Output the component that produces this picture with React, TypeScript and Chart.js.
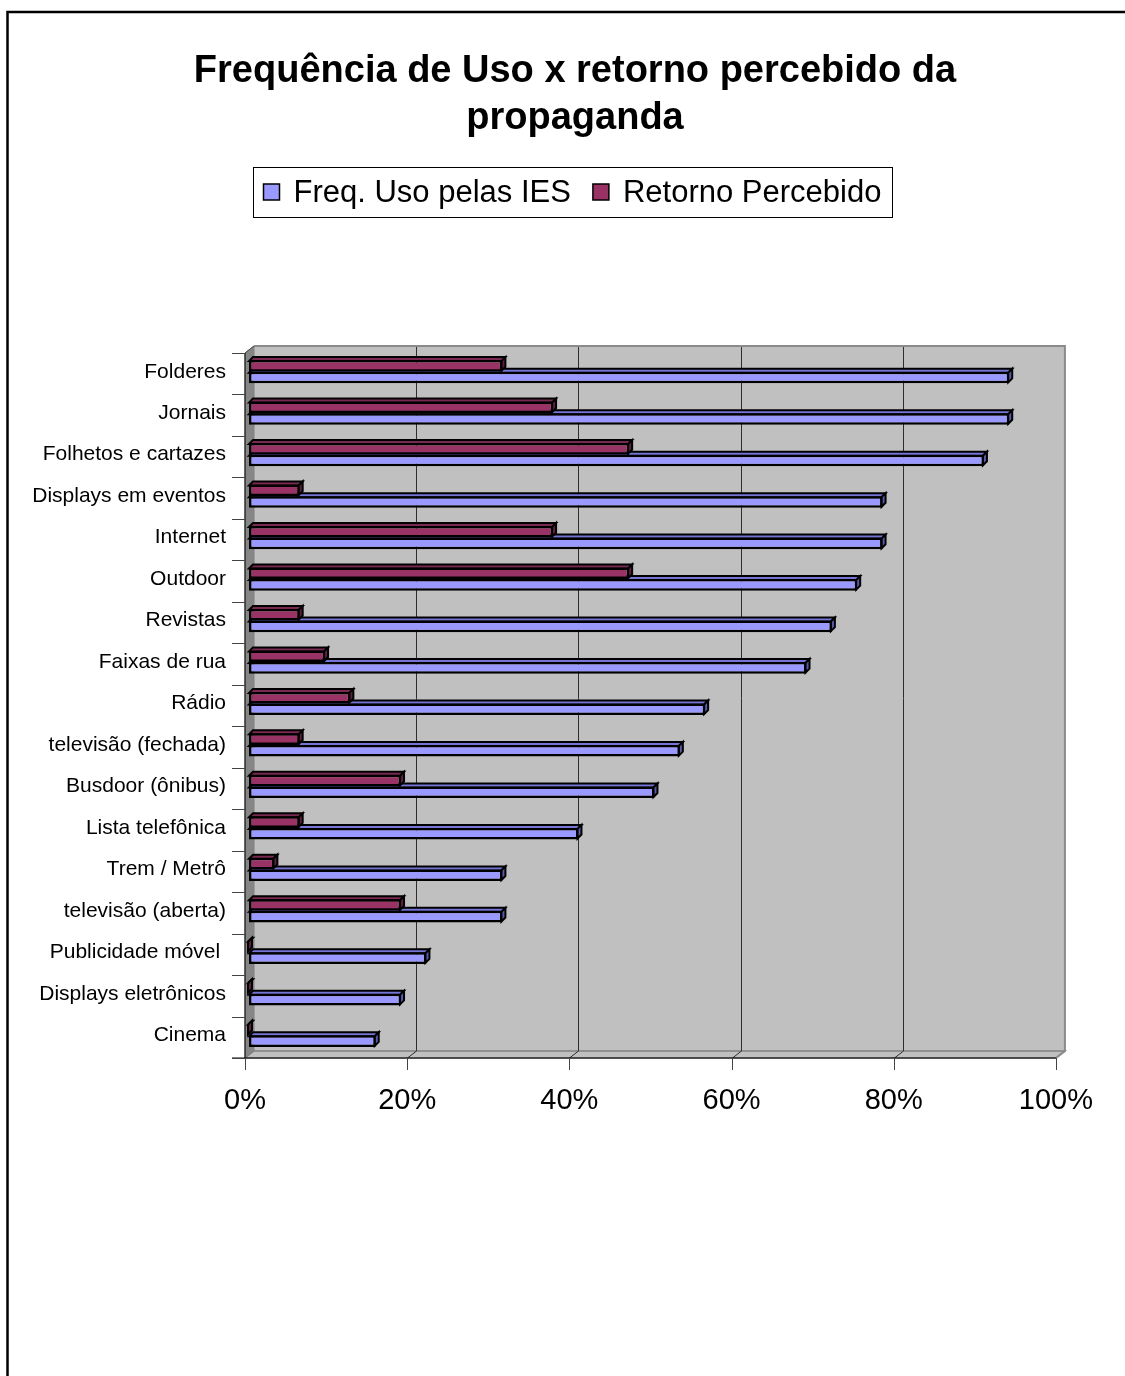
import React, { useEffect, useRef } from 'react';
import { Chart, registerables } from 'chart.js';

Chart.register(...registerables);

// Media types, top to bottom
const categories = [
  'Folderes',
  'Jornais',
  'Folhetos e cartazes',
  'Displays em eventos',
  'Internet',
  'Outdoor',
  'Revistas',
  'Faixas de rua',
  'Rádio',
  'televisão (fechada)',
  'Busdoor (ônibus)',
  'Lista telefônica',
  'Trem / Metrô',
  'televisão (aberta)',
  'Publicidade móvel ',
  'Displays eletrônicos',
  'Cinema',
];

// Share of institutions (%) using each medium
const freqUso = [93.75, 93.75, 90.63, 78.13, 78.13, 75, 71.88, 68.75, 56.25, 53.13, 50, 40.63, 31.25, 31.25, 21.88, 18.75, 15.63];
// Share (%) reporting a perceived return from that medium
const retorno = [31.25, 37.5, 46.88, 6.25, 37.5, 46.88, 6.25, 9.38, 12.5, 6.25, 18.75, 6.25, 3.13, 18.75, 0, 0, 0];

const xTicks = [0, 20, 40, 60, 80, 100];
const titleLines = ['Frequência de Uso x retorno percebido da', 'propaganda'];
const seriesNames = ['Freq. Uso pelas IES', 'Retorno Percebido'];

const FONT = "'Liberation Sans', Arial, Helvetica, sans-serif";

// Offsets of the front edge and the back wall relative to the bar plane
const FRONT_DX = -4;
const FRONT_DY = 2;
const BACK_DX = 5;
const BACK_DY = -5;
// Extrusion of each bar
const BAR_DX = 4;
const BAR_DY = -4;

function poly(ctx: CanvasRenderingContext2D, pts: number[][], fill?: string, stroke?: string, lw = 1) {
  ctx.beginPath();
  ctx.moveTo(pts[0][0], pts[0][1]);
  for (let i = 1; i < pts.length; i++) ctx.lineTo(pts[i][0], pts[i][1]);
  ctx.closePath();
  if (fill) {
    ctx.fillStyle = fill;
    ctx.fill();
  }
  if (stroke) {
    ctx.strokeStyle = stroke;
    ctx.lineWidth = lw;
    ctx.stroke();
  }
}

function line(ctx: CanvasRenderingContext2D, pts: number[][], stroke: string, lw = 1) {
  ctx.beginPath();
  ctx.moveTo(pts[0][0], pts[0][1]);
  for (let i = 1; i < pts.length; i++) ctx.lineTo(pts[i][0], pts[i][1]);
  ctx.strokeStyle = stroke;
  ctx.lineWidth = lw;
  ctx.stroke();
}

// Back wall, side wall, floor, gridlines and front axis lines
const wallsPlugin = {
  id: 'walls3d',
  beforeDatasetsDraw(chart: any) {
    const { ctx, chartArea: a, scales } = chart;
    const xs = scales.x;
    const ys = scales.y;
    const fx = (x: number) => x + FRONT_DX;
    const fy = (y: number) => y + FRONT_DY;
    const bx = (x: number) => x + BACK_DX;
    const by = (y: number) => y + BACK_DY;
    ctx.save();

    // back wall
    poly(ctx, [
      [bx(a.left), by(a.top)], [bx(a.right), by(a.top)],
      [bx(a.right), by(a.bottom)], [bx(a.left), by(a.bottom)],
    ], '#C0C0C0');

    // side wall
    poly(ctx, [
      [fx(a.left), fy(a.top)], [bx(a.left), by(a.top)],
      [bx(a.left), by(a.bottom)], [fx(a.left), fy(a.bottom)],
    ], '#868686', '#808080', 1);

    // floor
    poly(ctx, [
      [fx(a.left), fy(a.bottom)], [fx(a.right), fy(a.bottom)],
      [bx(a.right), by(a.bottom)], [bx(a.left), by(a.bottom)],
    ], '#C0C0C0', '#808080', 1.5);

    // gridlines across the back wall and the floor
    xTicks.slice(1, -1).forEach((v) => {
      const px = Math.round(xs.getPixelForValue(v)) + 0.5;
      line(ctx, [[bx(px), by(a.top)], [bx(px), by(a.bottom)], [fx(px), fy(a.bottom)]], '#2E2E2E', 1);
    });

    // back wall outline
    line(ctx, [[bx(a.left), by(a.top)], [bx(a.right), by(a.top)], [bx(a.right), by(a.bottom)], [fx(a.right), fy(a.bottom)]], '#8A8A8A', 2);

    // front value axis with its ticks
    line(ctx, [[fx(a.left) - 13, fy(a.bottom)], [fx(a.right), fy(a.bottom)]], '#000000', 1);
    xTicks.forEach((v) => {
      const px = Math.round(fx(xs.getPixelForValue(v))) + 0.5;
      line(ctx, [[px, fy(a.bottom)], [px, fy(a.bottom) + 12]], '#444444', 1);
    });

    // front category axis with ticks between categories
    line(ctx, [[fx(a.left), fy(a.top)], [fx(a.left), fy(a.bottom)]], '#000000', 1);
    for (let i = 0; i <= categories.length; i++) {
      const yb = Math.round(fy(ys.getPixelForValue(i - 0.5))) + 0.5;
      line(ctx, [[fx(a.left) - 13, yb], [fx(a.left), yb]], '#444444', 1);
    }
    line(ctx, [[fx(a.left), fy(a.top)], [bx(a.left), by(a.top)]], '#444444', 1);

    ctx.restore();
  },
};

// Top and end faces of each bar
const barDepthPlugin = {
  id: 'barDepth',
  beforeDatasetDraw(chart: any, args: any) {
    const meta = chart.getDatasetMeta(args.index);
    const ds: any = chart.data.datasets[args.index];
    const ctx = chart.ctx;
    ctx.save();
    meta.data.forEach((el: any) => {
      const { x, y, base, height } = el.getProps(['x', 'y', 'base', 'height'], true);
      const top = y - height / 2 + 1;
      const bottom = y + height / 2 - 1;
      const left = Math.min(base, x);
      const right = Math.max(base, x) - 1;
      poly(ctx, [
        [left, top], [left + BAR_DX, top + BAR_DY],
        [right + BAR_DX, top + BAR_DY], [right, top],
      ], ds.topColor, '#000000', 2);
      poly(ctx, [
        [right, top], [right + BAR_DX, top + BAR_DY],
        [right + BAR_DX, bottom + BAR_DY], [right, bottom],
      ], ds.sideColor, '#000000', 2);
    });
    ctx.restore();
  },
};

// Title, boxed legend and the outer frame
const headerPlugin = {
  id: 'header',
  afterDraw(chart: any) {
    const ctx: CanvasRenderingContext2D = chart.ctx;
    ctx.save();

    // title
    ctx.fillStyle = '#000';
    ctx.textAlign = 'center';
    ctx.textBaseline = 'middle';
    ctx.font = `bold 38px ${FONT}`;
    titleLines.forEach((t, i) => ctx.fillText(t, 575, 72 + i * 47));

    // legend
    ctx.font = `31px ${FONT}`;
    ctx.textAlign = 'left';
    const order = [1, 0];
    const widths = order.map((i) => ctx.measureText(chart.data.datasets[i].label).width);
    const total = widths[0] + widths[1] + 103;
    const cx = 572.5;
    const left = Math.round(cx - total / 2) + 0.5;
    const cy = 192;
    ctx.strokeStyle = '#000';
    ctx.lineWidth = 1;
    ctx.strokeRect(left, 167.5, Math.round(total), 50);
    let x = left + 10;
    order.forEach((dsIndex, k) => {
      const ds: any = chart.data.datasets[dsIndex];
      ctx.fillStyle = ds.backgroundColor;
      ctx.fillRect(x, cy - 8, 16, 16);
      ctx.strokeStyle = '#000';
      ctx.lineWidth = 1.5;
      ctx.strokeRect(x, cy - 8, 16, 16);
      ctx.fillStyle = '#000';
      ctx.fillText(ds.label, x + 30, cy + 1);
      x += 30 + widths[k] + 22;
    });

    // outer frame
    ctx.strokeStyle = '#000';
    ctx.lineWidth = 2.5;
    ctx.strokeRect(7.5, 12, 1300, 1500);
    ctx.restore();
  },
};

export default function App() {
  const canvasRef = useRef<HTMLCanvasElement | null>(null);

  useEffect(() => {
    const canvas = canvasRef.current;
    if (!canvas) return;
    const chart = new Chart(canvas, {
      type: 'bar',
      data: {
        labels: categories,
        datasets: [
          {
            label: seriesNames[1],
            data: retorno,
            backgroundColor: '#993366',
            borderColor: '#000000',
            borderWidth: 2.5,
            borderSkipped: false,
            topColor: '#7A2952',
            sideColor: '#5E1F3E',
          } as any,
          {
            label: seriesNames[0],
            data: freqUso,
            backgroundColor: '#9999FF',
            borderColor: '#000000',
            borderWidth: 2.5,
            borderSkipped: false,
            topColor: '#7575D6',
            sideColor: '#5A5AB0',
          } as any,
        ],
      },
      options: {
        indexAxis: 'y',
        responsive: false,
        animation: false,
        devicePixelRatio: 1,
        categoryPercentage: 0.56,
        barPercentage: 1,
        layout: { padding: { left: 20, right: 65, top: 351, bottom: 240 } },
        scales: {
          x: {
            min: 0,
            max: 100,
            afterFit: (scale: any) => { scale.height = 80; },
            afterBuildTicks: (scale: any) => { scale.ticks = xTicks.map((v) => ({ value: v })); },
            grid: { display: false, drawTicks: false },
            border: { display: false },
            ticks: {
              padding: 28,
              labelOffset: FRONT_DX,
              color: '#000000',
              font: { family: FONT, size: 29 },
              callback: (v: any) => `${v}%`,
            },
          },
          y: {
            afterFit: (scale: any) => { scale.width = 229; },
            grid: { display: false, drawTicks: false },
            border: { display: false },
            ticks: {
              padding: 23,
              autoSkip: false,
              color: '#000000',
              font: { family: FONT, size: 21 },
            },
          },
        },
        plugins: {
          legend: { display: false },
          tooltip: { enabled: false },
          title: { display: false },
        },
      } as any,
      plugins: [wallsPlugin, barDepthPlugin, headerPlugin],
    });
    return () => chart.destroy();
  }, []);

  return (
    <div style={{ position: 'absolute', left: 0, top: 0, width: 1125, height: 1376, overflow: 'hidden', background: '#ffffff' }}>
      <canvas ref={canvasRef} width={1125} height={1376} style={{ display: 'block' }} />
    </div>
  );
}
